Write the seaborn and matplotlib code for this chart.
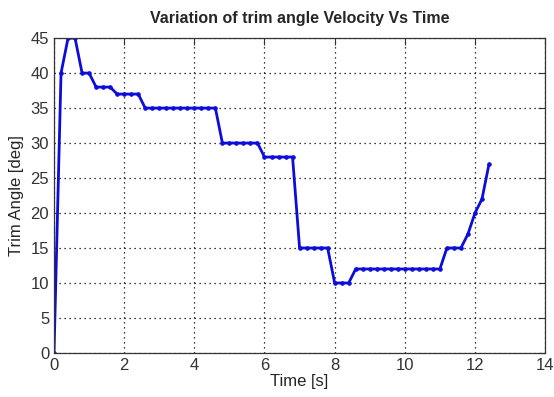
import numpy as np
import pandas as pd
import matplotlib
matplotlib.use('Agg')
import matplotlib.pyplot as plt
import seaborn as sns

# trim angle samples
time_s = [0.0, 0.2, 0.4, 0.6, 0.8, 1.0,
          1.2, 1.4, 1.6,
          1.8, 2.0, 2.2, 2.4,
          2.6, 2.8, 3.0, 3.2, 3.4, 3.6, 3.8, 4.0, 4.2, 4.4, 4.6,
          4.8, 5.0, 5.2, 5.4, 5.6, 5.8,
          6.0, 6.2, 6.4, 6.6, 6.8,
          7.0, 7.2, 7.4, 7.6, 7.8,
          8.0, 8.2, 8.4,
          8.6, 8.8, 9.0, 9.2, 9.4, 9.6, 9.8, 10.0, 10.2, 10.4, 10.6, 10.8, 11.0,
          11.2, 11.4, 11.6,
          11.8, 12.0, 12.2, 12.4]
trim_deg = [0, 40, 45, 45, 40, 40,
            38, 38, 38,
            37, 37, 37, 37,
            35, 35, 35, 35, 35, 35, 35, 35, 35, 35, 35,
            30, 30, 30, 30, 30, 30,
            28, 28, 28, 28, 28,
            15, 15, 15, 15, 15,
            10, 10, 10,
            12, 12, 12, 12, 12, 12, 12, 12, 12, 12, 12, 12, 12,
            15, 15, 15,
            17, 20, 22, 27]

x_ticks = list(range(0, 15, 2))
y_ticks = list(range(0, 46, 5))

df = pd.DataFrame({'Time': time_s, 'Trim': trim_deg})

sns.set_style('white')
plt.rcParams['font.family'] = ['Liberation Sans Narrow', 'Liberation Sans', 'DejaVu Sans']

fig, ax = plt.subplots(figsize=(5.54, 3.97), dpi=100)
fig.subplots_adjust(left=0.0975, right=0.984, top=0.904, bottom=0.111)

sns.lineplot(data=df, x='Time', y='Trim', sort=False, ax=ax, color='#0c0cdc',
             linewidth=2, marker='.', markersize=5, markeredgecolor='#0c0cdc')

ax.set_xlim(0, 14)
ax.set_ylim(0, 45)
ax.set_xticks(x_ticks)
ax.set_yticks(y_ticks)
ax.grid(True, color='black', linestyle=(0, (1, 3)), linewidth=0.9)
ax.tick_params(direction='in', top=True, right=True, length=5, labelsize=12,
               colors='#333333')
for s in ax.spines.values():
    s.set_color('#333333')
    s.set_linewidth(0.9)

ax.set_title('Variation of trim angle Velocity Vs Time', fontsize=11.5,
             fontweight='bold', pad=11)
ax.set_xlabel('Time [s]', fontsize=12, labelpad=1)
ax.set_ylabel('Trim Angle [deg]', fontsize=12, labelpad=5)

plt.savefig('out.png', dpi=100)
